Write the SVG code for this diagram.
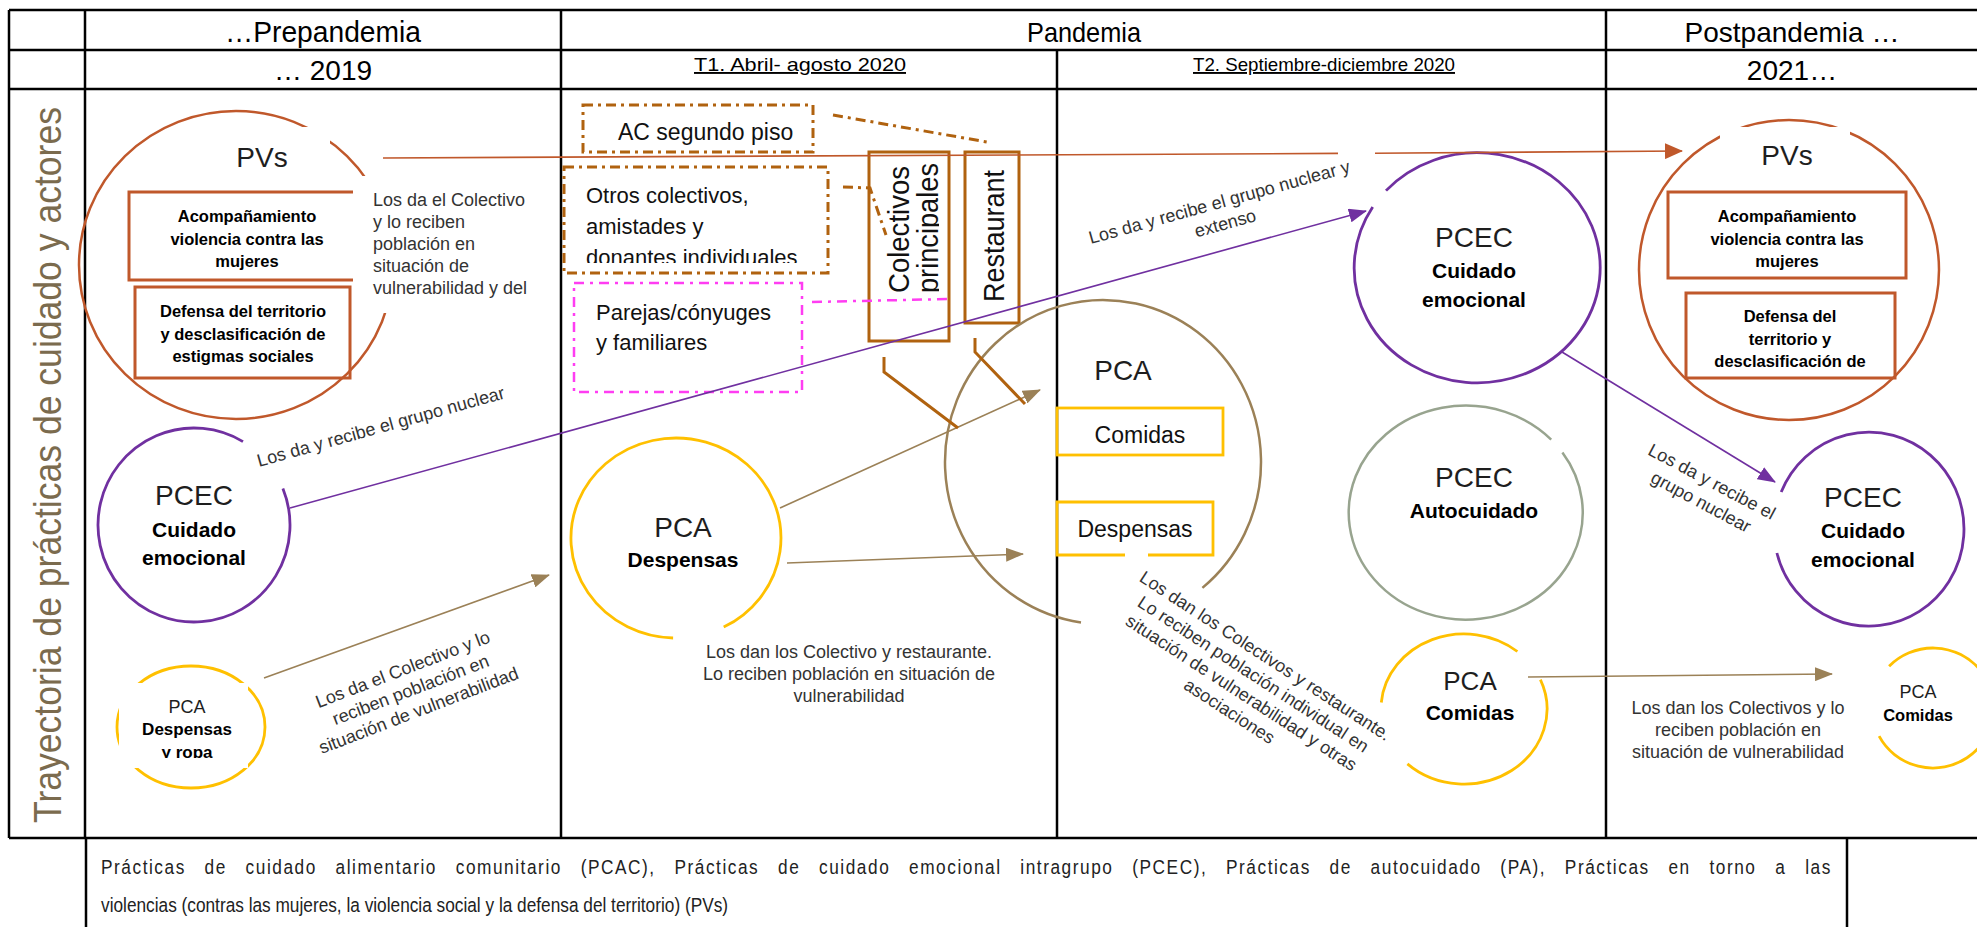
<svg xmlns="http://www.w3.org/2000/svg" width="1977" height="927" viewBox="0 0 1977 927">
  <defs>
    <marker id="ahTan" markerUnits="userSpaceOnUse" markerWidth="18" markerHeight="14" refX="17" refY="7" orient="auto">
      <path d="M0,0 L18,7 L0,14 z" fill="#9b8157"/>
    </marker>
    <marker id="ahPur" markerUnits="userSpaceOnUse" markerWidth="18" markerHeight="14" refX="17" refY="7" orient="auto">
      <path d="M0,0 L18,7 L0,14 z" fill="#7030a0"/>
    </marker>
    <marker id="ahOra" markerUnits="userSpaceOnUse" markerWidth="18" markerHeight="16" refX="17" refY="8" orient="auto">
      <path d="M0,0 L18,8 L0,16 z" fill="#c0582b"/>
    </marker>
    <clipPath id="clipOtros"><rect x="564" y="167" width="264" height="96"/></clipPath>
    <clipPath id="clipCol"><rect x="869" y="152" width="70" height="189"/></clipPath>
    <clipPath id="clipRopa"><rect x="100" y="660" width="180" height="98"/></clipPath>
  </defs>
  <style>
    text { font-family: "Liberation Sans", Arial, Helvetica, sans-serif; }
    .grid { stroke: #000; stroke-width: 2.5; fill: none; }
    .hd { font-size: 28px; fill: #000; text-anchor: middle; }
    .sub { font-size: 19px; fill: #000; text-anchor: middle; text-decoration: underline; }
    .ttl { font-size: 28px; fill: #1e1e1e; text-anchor: middle; }
    .bx { font-size: 16.5px; font-weight: bold; fill: #000; text-anchor: middle; }
    .lbl { font-size: 21px; font-weight: bold; fill: #000; text-anchor: middle; }
    .box { font-size: 22px; fill: #111; }
    .note { font-size: 18px; fill: #333; }
    .leg { font-size: 19.5px; fill: #222; }
    .mid { text-anchor: middle; }
    .pv { stroke: #c0582b; stroke-width: 2.5; fill: none; }
    .pvb { stroke: #c0582b; stroke-width: 3; fill: none; }
    .pur { stroke: #7030a0; stroke-width: 2.8; fill: none; }
    .yel { stroke: #ffc000; stroke-width: 2.8; fill: none; }
    .tan { stroke: #9b8157; stroke-width: 2.5; fill: none; }
    .sage { stroke: #98a48f; stroke-width: 2.5; fill: none; }
    .brn { stroke: #b0620f; stroke-width: 3; fill: none; }
    .dd { stroke-dasharray: 10 5 3 5; }
    .mag { stroke: #ff3df2; stroke-width: 2.5; fill: none; stroke-dasharray: 10 6 3 6; }
    .wht { fill: #fff; stroke: none; }
    .c-tan { stroke: #9b8157; stroke-width: 1.6; fill: none; }
    .c-pur { stroke: #7030a0; stroke-width: 1.6; fill: none; }
    .c-ora { stroke: #c0582b; stroke-width: 1.6; fill: none; }
  </style>

  <rect x="0" y="0" width="1977" height="927" fill="#fff"/>

  <!-- table frame -->
  <g id="table">
    <path class="grid" d="M9,10 H1977 M9,50 H1977 M9,89 H1977 M9,838 H1977"/>
    <path class="grid" d="M9,10 V838 M85,10 V838 M561,10 V838 M1057,50 V838 M1606,10 V838"/>
    <path class="grid" d="M86,838 V927 M1847,838 V927"/>
    <text class="hd" x="323" y="42" style="font-size:30px" textLength="196" lengthAdjust="spacingAndGlyphs">…Prepandemia</text>
    <text class="hd" x="1084" y="42" style="font-size:28px" textLength="114" lengthAdjust="spacingAndGlyphs">Pandemia</text>
    <text class="hd" x="1792" y="42">Postpandemia …</text>
    <text class="hd" x="323" y="80">… 2019</text>
    <text class="sub" x="800" y="71" textLength="212" lengthAdjust="spacingAndGlyphs">T1. Abril- agosto 2020</text>
    <text class="sub" x="1324" y="71" textLength="262" lengthAdjust="spacingAndGlyphs">T2. Septiembre-diciembre 2020</text>
    <text class="hd" x="1792" y="80">2021…</text>
    <text transform="translate(61,465) rotate(-90)" text-anchor="middle" font-size="38" fill="#7b6b4e" textLength="716" lengthAdjust="spacingAndGlyphs">Trayectoria de prácticas de cuidado y actores</text>
  </g>

  <!-- footer legend: justified first line, narrow glyphs -->
  <g id="legend">
    <text class="leg" transform="translate(101,874) scale(0.885,1)" style="word-spacing:14px" textLength="1954" lengthAdjust="spacing">Prácticas de cuidado alimentario comunitario (PCAC), Prácticas de cuidado emocional intragrupo (PCEC), Prácticas de autocuidado (PA), Prácticas en torno a las</text>
    <text class="leg" transform="translate(101,912) scale(0.885,1)">violencias (contras las mujeres, la violencia social y la defensa del territorio) (PVs)</text>
  </g>

  <!-- Prepandemia: PVs -->
  <g id="pvs-pre">
    <ellipse class="pv" cx="236" cy="265" rx="157" ry="154"/>
    <rect class="wht" x="194" y="127" width="136" height="55"/>
    <rect class="pvb" x="129" y="192" width="232" height="88"/>
    <rect class="pvb" x="135" y="287" width="215" height="91"/>
    <rect class="wht" x="353" y="176" width="195" height="137"/>
    <text class="ttl" x="262" y="167">PVs</text>
    <text class="bx" x="247" y="222">Acompañamiento</text>
    <text class="bx" x="247" y="245">violencia contra las</text>
    <text class="bx" x="247" y="267">mujeres</text>
    <text class="bx" x="243" y="317">Defensa del territorio</text>
    <text class="bx" x="243" y="340">y desclasificación de</text>
    <text class="bx" x="243" y="362">estigmas sociales</text>
    <text class="note" x="373" y="206">Los da el Colectivo</text>
    <text class="note" x="373" y="228">y lo reciben</text>
    <text class="note" x="373" y="250">población en</text>
    <text class="note" x="373" y="272">situación de</text>
    <text class="note" x="373" y="294">vulnerabilidad y del</text>
  </g>

  <!-- Prepandemia: PCEC -->
  <g id="pcec-pre">
    <path class="pur" d="M282.9,488.4 A96,97 0 1 1 243,441.6"/>
    <text class="ttl" x="194" y="505">PCEC</text>
    <text class="lbl" x="194" y="537">Cuidado</text>
    <text class="lbl" x="194" y="565">emocional</text>
  </g>

  <!-- Prepandemia: PCA despensas y ropa -->
  <g id="pca-pre">
    <ellipse class="yel" cx="191" cy="727" rx="74" ry="61"/>
    <rect class="wht" x="119" y="683" width="129" height="85"/>
    <text class="ttl" x="187" y="713" style="font-size:18px">PCA</text>
    <text class="bx" x="187" y="735" style="font-size:17px">Despensas</text>
    <g clip-path="url(#clipRopa)">
      <text class="bx" x="187" y="758" style="font-size:17px">y ropa</text>
    </g>
  </g>

  <!-- T1 actors -->
  <g id="ac-segundo-piso">
    <rect class="brn dd" x="583" y="105" width="230" height="47"/>
    <text class="box" x="618" y="140" style="font-size:23px">AC segundo piso</text>
  </g>
  <g id="otros-colectivos">
    <rect class="brn dd" x="564" y="167" width="264" height="106"/>
    <g clip-path="url(#clipOtros)">
      <text class="box" x="586" y="203">Otros colectivos,</text>
      <text class="box" x="586" y="234">amistades y</text>
      <text class="box" x="586" y="265">donantes individuales</text>
    </g>
  </g>
  <g id="parejas">
    <rect class="mag" x="574" y="283" width="228" height="109"/>
    <text class="box" x="596" y="320">Parejas/cónyuges</text>
    <text class="box" x="596" y="350">y familiares</text>
  </g>
  <g id="colectivos-principales">
    <rect class="brn" x="869" y="152" width="80" height="189"/>
    <g clip-path="url(#clipCol)">
      <g transform="translate(909,293) rotate(-90)">
        <text class="box" x="0" y="0" style="font-size:29px" textLength="127" lengthAdjust="spacingAndGlyphs">Colectivos</text>
        <text class="box" x="0" y="29" style="font-size:29px" textLength="130" lengthAdjust="spacingAndGlyphs">principales</text>
      </g>
    </g>
  </g>
  <g id="restaurant">
    <rect class="brn" x="965" y="152" width="54" height="171"/>
    <text class="box" transform="translate(1004,302) rotate(-90)" style="font-size:29px" textLength="132" lengthAdjust="spacingAndGlyphs">Restaurant</text>
  </g>

  <!-- T1: PCA despensas -->
  <g id="pca-t1">
    <path class="yel" d="M673.1,638 A105,100 0 1 1 723.7,627.1"/>
    <text class="ttl" x="683" y="537">PCA</text>
    <text class="lbl" x="683" y="567">Despensas</text>
    <text class="note mid" x="849" y="658">Los dan los Colectivo y restaurante.</text>
    <text class="note mid" x="849" y="680">Lo reciben población en situación de</text>
    <text class="note mid" x="849" y="702">vulnerabilidad</text>
  </g>

  <!-- T1/T2: PCA comidas y despensas -->
  <g id="pca-t1t2">
    <path class="tan" d="M1081,622.4 A158,162 0 1 1 1202.4,587.9"/>
    <text class="ttl" x="1123" y="380">PCA</text>
    <rect class="yel" x="1057" y="408" width="166" height="47"/>
    <text class="box mid" x="1140" y="443" style="font-size:23px">Comidas</text>
    <path class="yel" d="M1125,555 H1057 V502 H1213 V555 H1148"/>
    <text class="box mid" x="1135" y="537" style="font-size:23px">Despensas</text>
  </g>

  <!-- T2 nodes -->
  <g id="pcec-t2">
    <path class="pur" d="M1386,190.6 A123,115 0 1 1 1372.7,207.1"/>
    <text class="ttl" x="1474" y="247">PCEC</text>
    <text class="lbl" x="1474" y="278">Cuidado</text>
    <text class="lbl" x="1474" y="307">emocional</text>
  </g>
  <g id="pa-t2">
    <path class="sage" d="M1562.4,452.4 A117,107 0 1 1 1551.2,439.6"/>
    <text class="ttl" x="1474" y="487">PCEC</text>
    <text class="lbl" x="1474" y="518">Autocuidado</text>
  </g>
  <g id="pca-t2">
    <path class="yel" d="M1381.3,702.5 A83,75 0 0 1 1517.4,651.5"/>
    <path class="yel" d="M1540.4,679.7 A83,75 0 0 1 1407.4,763.9"/>
    <text class="ttl" x="1470" y="690" style="font-size:26px">PCA</text>
    <text class="lbl" x="1470" y="720">Comidas</text>
  </g>

  <!-- Postpandemia nodes -->
  <g id="pvs-post">
    <ellipse class="pv" cx="1789" cy="270" rx="150" ry="150"/>
    <rect class="wht" x="1720" y="127" width="130" height="50"/>
    <text class="ttl" x="1787" y="165">PVs</text>
    <rect class="pvb" x="1668" y="192" width="238" height="86"/>
    <text class="bx" x="1787" y="222">Acompañamiento</text>
    <text class="bx" x="1787" y="245">violencia contra las</text>
    <text class="bx" x="1787" y="267">mujeres</text>
    <rect class="pvb" x="1686" y="293" width="209" height="85"/>
    <text class="bx" x="1790" y="322">Defensa del</text>
    <text class="bx" x="1790" y="345">territorio y</text>
    <text class="bx" x="1790" y="367">desclasificación de</text>
  </g>
  <g id="pcec-post">
    <path class="pur" d="M1781.2,492 A95,97 0 1 1 1776.9,553"/>
    <text class="ttl" x="1863" y="507">PCEC</text>
    <text class="lbl" x="1863" y="538">Cuidado</text>
    <text class="lbl" x="1863" y="567">emocional</text>
  </g>
  <g id="pca-post">
    <path class="yel" d="M1889.1,666.3 A61,60 0 1 1 1879.1,736.2"/>
    <text class="ttl" x="1918" y="698" style="font-size:18px">PCA</text>
    <text class="bx" x="1918" y="721">Comidas</text>
  </g>

  <!-- connectors and their labels -->
  <g id="connectors">
    <path class="c-ora" d="M383,158 L1338,153.4"/>
    <path class="c-ora" d="M1375,153.2 L1682,151" marker-end="url(#ahOra)"/>
    <path class="c-pur" d="M290,508 L1366,211" marker-end="url(#ahPur)"/>
    <path class="c-pur" d="M1562,352 L1775,482" marker-end="url(#ahPur)"/>
    <path class="c-tan" d="M264,678 L549,575" marker-end="url(#ahTan)"/>
    <path class="c-tan" d="M780,508 L1040,390" marker-end="url(#ahTan)"/>
    <path class="c-tan" d="M787,563 L1023,554" marker-end="url(#ahTan)"/>
    <path class="c-tan" d="M1528,677 L1832,674" marker-end="url(#ahTan)"/>
    <path class="brn" d="M884,357 V372 L958,428"/>
    <path class="brn" d="M975,338 V352 L1025,404"/>
    <path class="brn dd" d="M833,115 L987,142"/>
    <path class="brn dd" d="M843,187 L870,188 L886,235"/>
    <path class="mag" d="M812,302 L948,299"/>

    <text class="note" transform="translate(259,467) rotate(-15.6)">Los da y recibe el grupo nuclear</text>
    <g transform="translate(1221,208) rotate(-15.5)">
      <text class="note mid" x="0" y="0">Los da y recibe el grupo nuclear y</text>
      <text class="note mid" x="0" y="22">extenso</text>
    </g>
    <g transform="translate(405,675) rotate(-21)">
      <text class="note mid" x="0" y="0">Los da el Colectivo y lo</text>
      <text class="note mid" x="0" y="22">reciben población en</text>
      <text class="note mid" x="0" y="44">situación de vulnerabilidad</text>
    </g>
    <g transform="translate(1709,487) rotate(28)">
      <text class="note mid" x="0" y="0">Los da y recibe el</text>
      <text class="note mid" x="0" y="23">grupo nuclear</text>
    </g>
    <g transform="translate(1262,661) rotate(33)">
      <text class="note mid" x="0" y="0">Los dan los Colectivos y restaurante.</text>
      <text class="note mid" x="0" y="22">Lo reciben población individual en</text>
      <text class="note mid" x="0" y="44">situación de vulnerabilidad y otras</text>
      <text class="note mid" x="0" y="66">asociaciones</text>
    </g>
    <text class="note mid" x="1738" y="714">Los dan los Colectivos y lo</text>
    <text class="note mid" x="1738" y="736">reciben población en</text>
    <text class="note mid" x="1738" y="758">situación de vulnerabilidad</text>
  </g>
</svg>
